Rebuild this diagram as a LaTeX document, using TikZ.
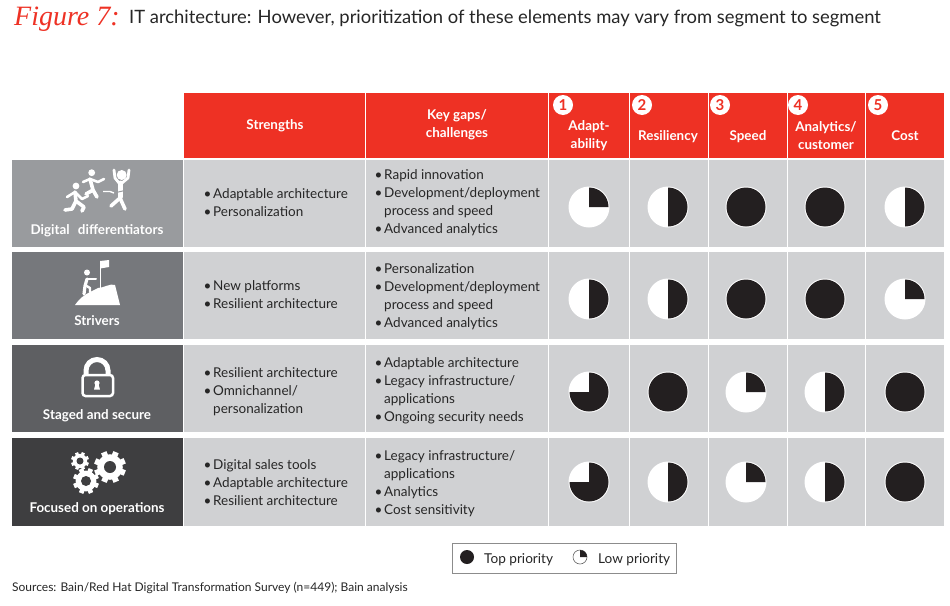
\documentclass[tikz,border=0pt]{standalone}
\usepackage{xcolor}
\usepackage{fontspec}
\setmainfont{Lato}
\newfontfamily\handfont{Liberation Serif}
\usepackage{tikz}

\definecolor{hdrred}{HTML}{EE3124}
\definecolor{cellgrey}{HTML}{D0D1D3}
\definecolor{rowone}{HTML}{999B9E}
\definecolor{rowtwo}{HTML}{76787C}
\definecolor{rowthree}{HTML}{5E5F62}
\definecolor{rowfour}{HTML}{3E3E40}
\definecolor{ballblack}{HTML}{231F20}

\newcommand{\bul}{\makebox[9.5pt][l]{\textbullet}}
\newcommand{\nobul}{\hspace*{9.5pt}}

% x, y, radius, share filled
\newcommand{\priorityball}[4]{
	\fill[white] (#1,#2) circle (#3+1);
	\fill[ballblack] (#1,#2) -- ++(-90:#3) arc (-90:{-90+360*#4}:#3) -- cycle;
}
% x, y, outer radius, hole radius
\newcommand{\gearicon}[4]{
	\fill[white] (#1,#2) circle (#3*0.8);
	\foreach \a in {0,45,...,315}
		\draw[white,line width=#3*0.36pt] (#1,#2) -- ++(\a+22:#3);
	\fill[rowfour] (#1,#2) circle (#4);
}

\tikzset{
	hdrtext/.style={text=white,font=\fontsize{13.4}{18}\selectfont\bfseries,align=center},
	rowtext/.style={text=white,font=\fontsize{13.4}{18}\selectfont\bfseries},
	listtext/.style={anchor=west,align=left,text=black!85,font=\fontsize{13.5}{18}\selectfont,inner sep=0pt},
	badge/.style={circle,fill=white,text=hdrred,inner sep=0pt,minimum size=20pt,font=\fontsize{15}{15}\selectfont\bfseries},
	icon/.style={white,line width=3.6pt,line cap=round,line join=round}
}

\begin{document}
\begin{tikzpicture}[x=1pt,y=-1pt]
	\useasboundingbox (0,0) rectangle (950,605);
	\fill[white] (0,0) rectangle (950,605);

	\node[anchor=west,inner sep=0pt,text=hdrred,font=\fontsize{28}{28}\selectfont\handfont\itshape] (figlabel) at (14,19) {Figure 7:};
	\node[anchor=west,inner sep=0pt,text=black!85,font=\fontsize{18.4}{24}\selectfont] (figtitle) at (129,18) {IT architecture: However, prioritization of these elements may vary from segment to segment};

	% header band
	\fill[hdrred] (184,93) rectangle (365,158);
	\fill[hdrred] (366,93) rectangle (548,158);
	\foreach \xa/\xb in {549/629,630/708,709/787,788/865,866/944}
		\fill[hdrred] (\xa,93) rectangle (\xb,158);

	% rows
	\foreach \ya/\yb/\col in {160/247/rowone,252/339/rowtwo,345/432/rowthree,438/526/rowfour}{
		\fill[\col] (12,\ya) rectangle (183,\yb);
		\fill[cellgrey] (184,\ya) rectangle (365,\yb);
		\fill[cellgrey] (366,\ya) rectangle (548,\yb);
		\foreach \xa/\xb in {549/629,630/708,709/787,788/865,866/944}
			\fill[cellgrey] (\xa,\ya) rectangle (\xb,\yb);
	}

	\node[hdrtext] (strengths) at (275,125.5) {Strengths};
	\node[hdrtext] (keygaps) at (457,125) {Key gaps/\\challenges};
	\node[hdrtext] (adapt) at (589,136) {Adapt-\\ability};
	\node[hdrtext] (resil) at (668,137) {Resiliency};
	\node[hdrtext] (speed) at (748,137) {Speed};
	\node[hdrtext] (analytics) at (826,136) {Analytics/\\customer};
	\node[hdrtext] (cost) at (905,136) {Cost};

	\node[badge] (one) at (563,105) {1};
	\node[badge] (two) at (642,105) {2};
	\node[badge] (three) at (720,105) {3};
	\node[badge] (four) at (798,105) {4};
	\node[badge] (five) at (878,105) {5};

	\node[rowtext] (digital) at (97,230.5) {Digital\hspace{5pt} differentiators};
	\node[rowtext] (strivers) at (97,321) {Strivers};
	\node[rowtext] (staged) at (97,416) {Staged and secure};
	\node[rowtext] (focused) at (97,509) {Focused on operations};

	\node[listtext] (strone) at (203.5,202.5) {\bul Adaptable architecture\\\bul Personalization};
	\node[listtext] (strtwo) at (203.5,295) {\bul New platforms\\\bul Resilient architecture};
	\node[listtext] (strthree) at (203.5,391.5) {\bul Resilient architecture\\\bul Omnichannel/\\\nobul personalization};
	\node[listtext] (strfour) at (203.5,482.5) {\bul Digital sales tools\\\bul Adaptable architecture\\\bul Resilient architecture};

	\node[listtext] (gapone) at (374.5,203) {\bul Rapid innovation\\\bul Development/deployment\\\nobul process and speed\\\bul Advanced analytics};
	\node[listtext] (gaptwo) at (374.5,296.5) {\bul Personalization\\\bul Development/deployment\\\nobul process and speed\\\bul Advanced analytics};
	\node[listtext] (gapthree) at (374.5,390.5) {\bul Adaptable architecture\\\bul Legacy infrastructure/\\\nobul applications\\\bul Ongoing security needs};
	\node[listtext] (gapfour) at (374.5,483.5) {\bul Legacy infrastructure/\\\nobul applications\\\bul Analytics\\\bul Cost sensitivity};

	% priority balls
	\foreach \y/\fa/\fb/\fc/\fd/\fe in {207/0.25/0.5/1/1/0.5,299/0.5/0.5/1/1/0.25,392/0.75/1/0.25/0.5/1,482/0.75/0.5/0.25/0.5/1}{
		\priorityball{589}{\y}{19.5}{\fa}
		\priorityball{668}{\y}{19.5}{\fb}
		\priorityball{746}{\y}{19.5}{\fc}
		\priorityball{825}{\y}{19.5}{\fd}
		\priorityball{905}{\y}{19.5}{\fe}
	}

	% runners
	\fill[white] (76,186) circle (3.4);
	\fill[white] (91.7,172.7) circle (3.4);
	\fill[white] (121.7,175) circle (5);
	\draw[icon] (75,192) -- (76,201) -- (84,207) -- (82,211);
	\draw[icon,line width=2.6pt] (75,192) -- (67,197);
	\draw[icon,line width=2.6pt] (75,192) -- (82,199) -- (88,196);
	\draw[icon] (76,201) -- (72,209) -- (65,210);
	\draw[icon] (90,179) -- (93,190) -- (97,197);
	\draw[icon,line width=2.6pt] (90,179) -- (83,182);
	\draw[icon,line width=2.6pt] (90,179) -- (98,182) -- (104,179);
	\draw[icon] (93,190) -- (86,194);
	\draw[icon,line width=5pt] (120,183) -- (120,197);
	\draw[icon] (120,198) -- (125,209);
	\draw[icon] (120,198) -- (111,206);
	\draw[icon,line width=2.8pt] (119,183) -- (115,178) -- (114,170);
	\draw[icon,line width=2.8pt] (122,183) -- (128,178) -- (129,170);
	\draw[rowone,line width=1pt] (114,193) -- (127,190);
	\draw[white,line width=1.4pt] (103,191.5) -- (110,191.5) -- (114,193);

	% climber
	\fill[white] (75,305) .. controls (79,299) and (84,295) .. (90,292) -- (98,288) .. controls (104,288) and (110,283) .. (115,285) -- (120,305) -- cycle;
	\fill[white] (87,272.5) circle (3);
	\draw[icon,line width=3.2pt] (87,279) -- (85,286) -- (84,294);
	\draw[icon,line width=2pt] (87,279) -- (96,279);
	\draw[icon,line width=2.4pt] (85,285) -- (90,288) -- (90,292);
	\draw[white,line width=1pt] (100,262) -- (100,289);
	\fill[white] (100,261) -- (109,260) -- (109,267) -- (100,268.5) -- cycle;

	% lock
	\draw[white,line width=5pt] (86,376) -- (86,370.5) arc (-180:0:11) -- (108,376);
	\draw[white,fill=rowthree,line width=2.5pt,rounded corners=3pt] (82.5,375) rectangle (113,396);
	\fill[white] (97,383) circle (2.6);
	\fill[white] (95.5,384) -- (98.5,384) -- (100,389.5) -- (94,389.5) -- cycle;

	% gears
	\gearicon{110}{467}{16}{6}
	\gearicon{86}{481}{13}{5}
	\gearicon{80}{461}{9}{3.5}

	% legend
	\draw[black!45,line width=0.8pt,fill=white] (452.5,543.5) rectangle (676,573);
	\fill[ballblack] (467,557) circle (7);
	\draw[black!60,line width=0.6pt] (580,557) circle (7);
	\fill[ballblack] (580,557) -- ++(-90:7) arc (-90:0:7) -- cycle;
	\node[anchor=west,inner sep=0pt,text=black!85,font=\fontsize{13.6}{18}\selectfont] (toplabel) at (484,559.5) {Top priority};
	\node[anchor=west,inner sep=0pt,text=black!85,font=\fontsize{13.6}{18}\selectfont] (lowlabel) at (598,559.5) {Low priority};

	\node[anchor=west,inner sep=0pt,text=black!85,font=\fontsize{12}{13}\selectfont] (sources) at (12,588) {Sources: Bain/Red Hat Digital Transformation Survey (n=449); Bain analysis};
\end{tikzpicture}
\end{document}
